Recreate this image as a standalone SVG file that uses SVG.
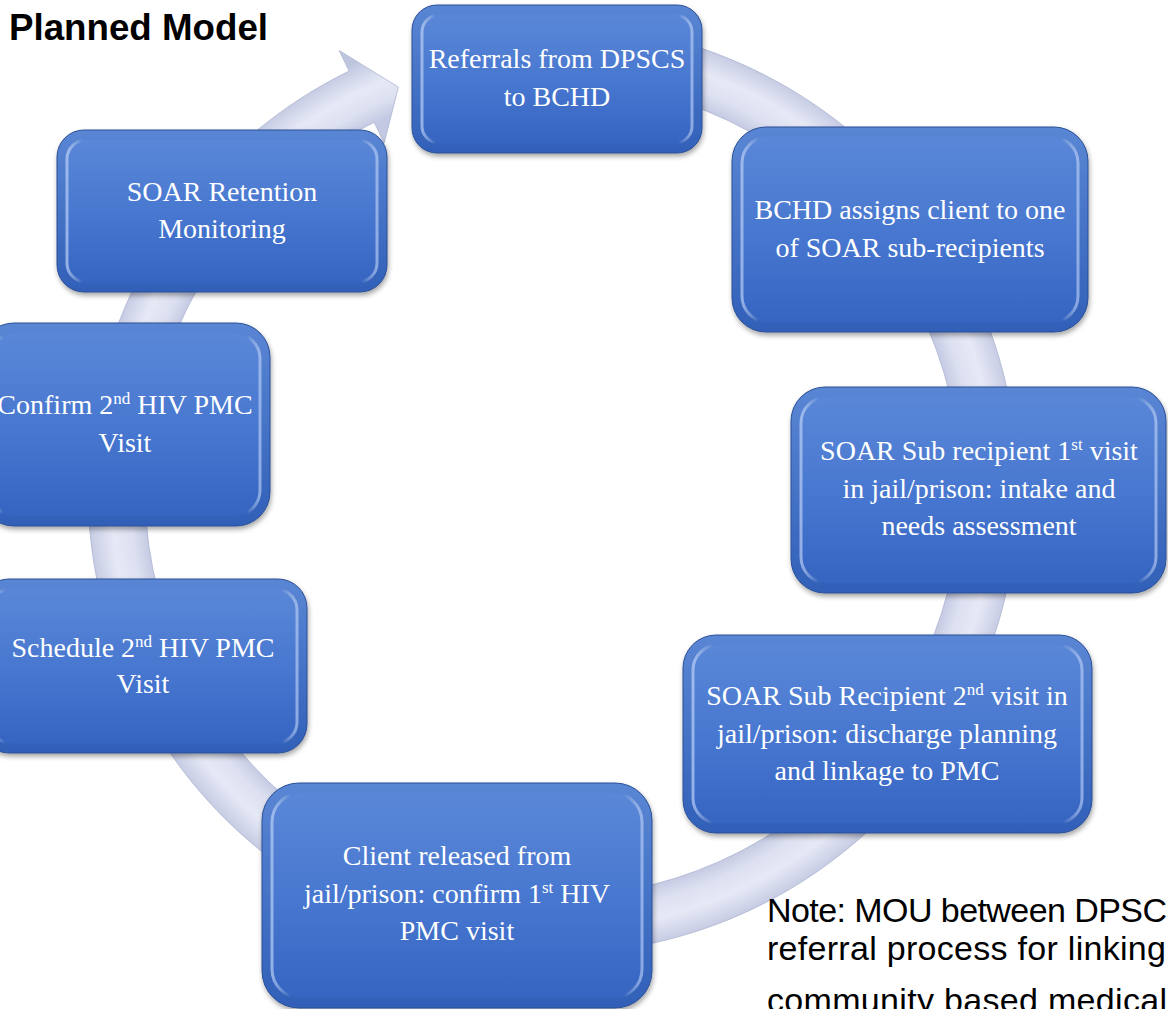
<svg xmlns="http://www.w3.org/2000/svg" width="1168" height="1009" viewBox="0 0 1168 1009">
<style>
.face{fill:url(#gEdge);stroke:#2a4f96;stroke-width:1;filter:url(#shadow)}
.inner{fill:url(#gFace);stroke:url(#gRim);stroke-width:3}
.lbl{font-family:"Liberation Serif","Times New Roman",serif;font-size:28px;fill:#ffffff;text-anchor:middle}
.sup{font-size:17px}
.title{font-family:"Liberation Sans",Arial,sans-serif;font-size:36px;font-weight:bold;fill:#000}
.note{font-family:"Liberation Sans",Arial,sans-serif;font-size:34px;fill:#000}
</style>
<defs>
<filter id="shadow" x="-10%" y="-10%" width="120%" height="130%">
<feDropShadow dx="1" dy="3" stdDeviation="2.5" flood-color="#000" flood-opacity="0.35"/>
</filter>
<linearGradient id="gEdge" x1="0" y1="0" x2="0" y2="1">
<stop offset="0" stop-color="#5a86d4"/><stop offset="1" stop-color="#3160b8"/>
</linearGradient>
<linearGradient id="gFace" x1="0" y1="0" x2="0" y2="1">
<stop offset="0" stop-color="#5a87d7"/><stop offset="0.55" stop-color="#4676cf"/><stop offset="1" stop-color="#3565c1"/>
</linearGradient>
<linearGradient id="gRim" x1="0" y1="0" x2="1" y2="0">
<stop offset="0" stop-color="#c4d7fb" stop-opacity="0.65"/>
<stop offset="0.05" stop-color="#ffffff" stop-opacity="0"/>
<stop offset="0.95" stop-color="#ffffff" stop-opacity="0"/>
<stop offset="1" stop-color="#c4d7fb" stop-opacity="0.6"/>
</linearGradient>
<radialGradient id="gRing" gradientUnits="userSpaceOnUse" cx="553" cy="489" r="470">
<stop offset="0" stop-color="#c3c9e2"/>
<stop offset="0.865" stop-color="#c3c9e2"/>
<stop offset="0.9" stop-color="#dce0f0"/>
<stop offset="0.94" stop-color="#e6e9f5"/>
<stop offset="0.98" stop-color="#cdd2e8"/>
<stop offset="1" stop-color="#bec5de"/>
</radialGradient>
</defs>
<rect x="0" y="0" width="1168" height="1009" fill="#ffffff"/>

<g id="connectors">
<path d="M 593.5 25.8 A 465 465 0 1 1 349.1 71.1 L 339.1 50.4 L 398.4 87.1 L 384.2 143 L 374.1 122.3 A 408 408 0 1 0 588.6 82.6 Z" fill="url(#gRing)" stroke="#aeb5d2" stroke-width="0.8"/>
</g>

<text class="title" x="9" y="40" textLength="259" lengthAdjust="spacingAndGlyphs">Planned Model</text>

<g id="node-1">
<rect class="face" x="412" y="5" width="290" height="148" rx="25"/>
<rect class="inner" x="422" y="15" width="270" height="128" rx="17"/>
<text class="lbl" x="557" y="68">Referrals from DPSCS</text>
<text class="lbl" x="557" y="106">to BCHD</text>
</g>

<g id="node-2">
<rect class="face" x="732" y="127" width="356" height="205" rx="34"/>
<rect class="inner" x="742" y="137" width="336" height="185" rx="26"/>
<text class="lbl" x="910" y="219">BCHD assigns client to one</text>
<text class="lbl" x="910" y="257">of SOAR sub-recipients</text>
</g>

<g id="node-3">
<rect class="face" x="791" y="387" width="375" height="206" rx="34"/>
<rect class="inner" x="801" y="397" width="355" height="186" rx="26"/>
<text class="lbl" x="979" y="460">SOAR Sub recipient 1<tspan class="sup" dy="-10">st</tspan><tspan dy="10"> visit</tspan></text>
<text class="lbl" x="979" y="498">in jail/prison: intake and</text>
<text class="lbl" x="979" y="535">needs assessment</text>
</g>

<g id="node-4">
<rect class="face" x="683" y="635" width="409" height="198" rx="33"/>
<rect class="inner" x="693" y="645" width="389" height="178" rx="25"/>
<text class="lbl" x="887" y="705">SOAR Sub Recipient 2<tspan class="sup" dy="-10">nd</tspan><tspan dy="10"> visit in</tspan></text>
<text class="lbl" x="887" y="743">jail/prison: discharge planning</text>
<text class="lbl" x="887" y="780">and linkage to PMC</text>
</g>

<g id="node-5">
<rect class="face" x="262" y="783" width="390" height="225" rx="37"/>
<rect class="inner" x="272" y="793" width="370" height="205" rx="29"/>
<text class="lbl" x="457" y="865">Client released from</text>
<text class="lbl" x="457" y="903">jail/prison: confirm 1<tspan class="sup" dy="-10">st</tspan><tspan dy="10"> HIV</tspan></text>
<text class="lbl" x="457" y="940">PMC visit</text>
</g>

<g id="node-6">
<rect class="face" x="-20" y="579" width="327" height="174" rx="29"/>
<rect class="inner" x="-10" y="589" width="307" height="154" rx="21"/>
<text class="lbl" x="143" y="657">Schedule 2<tspan class="sup" dy="-10">nd</tspan><tspan dy="10"> HIV PMC</tspan></text>
<text class="lbl" x="143" y="693">Visit</text>
</g>

<g id="node-7">
<rect class="face" x="-20" y="323" width="290" height="203" rx="34"/>
<rect class="inner" x="-10" y="333" width="270" height="183" rx="26"/>
<text class="lbl" x="125" y="414">Confirm 2<tspan class="sup" dy="-10">nd</tspan><tspan dy="10"> HIV PMC</tspan></text>
<text class="lbl" x="125" y="452">Visit</text>
</g>

<g id="node-8">
<rect class="face" x="57" y="130" width="330" height="162" rx="27"/>
<rect class="inner" x="67" y="140" width="310" height="142" rx="19"/>
<text class="lbl" x="222" y="201">SOAR Retention</text>
<text class="lbl" x="222" y="238">Monitoring</text>
</g>

<text class="note" x="767" y="922" textLength="400" lengthAdjust="spacing">Note: MOU between DPSC</text>
<text class="note" x="767" y="960" textLength="399" lengthAdjust="spacing">referral process for linking</text>
<text class="note" x="767" y="1012" textLength="400" lengthAdjust="spacing">community based medical</text>
</svg>
